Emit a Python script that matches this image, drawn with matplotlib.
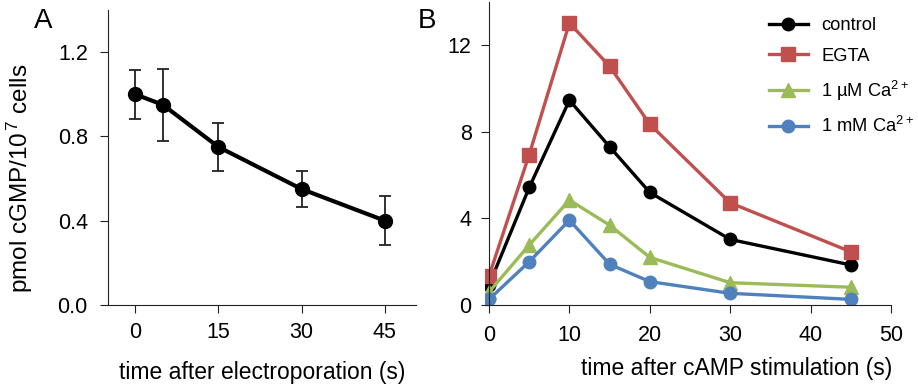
import matplotlib
matplotlib.use("Agg")
import matplotlib.pyplot as plt

plt.rcParams['font.family'] = ['Liberation Sans', 'DejaVu Sans']
plt.rcParams['mathtext.fontset'] = 'custom'
plt.rcParams['mathtext.rm'] = 'Liberation Sans'
plt.rcParams['mathtext.it'] = 'Liberation Sans:italic'

# panel A
t_a = [0, 5, 15, 30, 45]
cgmp_a = [1.0, 0.95, 0.75, 0.55, 0.40]
err_a = [0.115, 0.172, 0.115, 0.085, 0.115]

# panel B
t_b = [0, 5, 10, 15, 20, 30, 45]
control = [0.92, 5.43, 9.46, 7.31, 5.2, 3.03, 1.85]
egta = [1.34, 6.95, 13.03, 11.03, 8.35, 4.72, 2.46]
ca_um = [0.6, 2.77, 4.85, 3.69, 2.2, 1.03, 0.82]
ca_mm = [0.26, 2.0, 3.92, 1.88, 1.08, 0.54, 0.26]

series_b = [
    (control, 'control', 'black', 'o', 9),
    (egta, 'EGTA', '#C0504D', 's', 9.5),
    (ca_um, '1 µM Ca$^{2+}$', '#9BBB59', '^', 10),
    (ca_mm, '1 mM Ca$^{2+}$', '#4F81BD', 'o', 9),
]

fs = 15.5

fig = plt.figure(figsize=(9.18, 3.85), dpi=100)

# --- A ---
ax1 = fig.add_axes([108/918, 80/385, 308/918, 295/385])
ax1.errorbar(t_a, cgmp_a, yerr=err_a, color='black', lw=3, marker='o', ms=10,
             ecolor='#222222', elinewidth=1.3, capsize=4.5, capthick=1.3)
ax1.set_xlim(-4.9, 50.6)
ax1.set_ylim(0, 1.4)
ax1.set_xticks([0, 15, 30, 45])
ax1.set_yticks([0.0, 0.4, 0.8, 1.2])
ax1.set_yticklabels(['0.0', '0.4', '0.8', '1.2'])
ax1.set_xlabel('time after electroporation (s)', fontsize=16.5, labelpad=13)
ax1.set_ylabel('pmol cGMP/10$^{\\,7}$ cells', fontsize=17.5)
ax1.yaxis.set_label_coords(-73/308, 0.43)
ax1.tick_params(axis='y', pad=9)
ax1.tick_params(axis='x', pad=7)

fig.text(34/918, 1 - 8/385, 'A', fontsize=20, va='top')
fig.text(418/918, 1 - 8/385, 'B', fontsize=20, va='top')

# --- B ---
ax2 = fig.add_axes([485/918, 80/385, 406/918, 303/385])
for vals, lab, col, mk, ms in series_b:
    ax2.plot(t_b, vals, color=col, lw=2.4, marker=mk, ms=ms, label=lab)
ax2.set_xlim(-0.5, 50)
ax2.set_ylim(0, 14)
ax2.spines['left'].set_position(('data', 0))
ax2.set_xticks([0, 10, 20, 30, 40, 50])
ax2.set_yticks([0, 4, 8, 12])
ax2.set_xlabel('time after cAMP stimulation (s)', fontsize=16.5)
ax2.xaxis.set_label_coords(0.62, -0.17)
ax2.tick_params(axis='x', pad=9)
ax2.tick_params(axis='y', pad=7)
ax2.legend(loc='upper left', frameon=False, fontsize=13.2, handlelength=2.1,
           handletextpad=0.75, labelspacing=0.75, borderpad=0, borderaxespad=0,
           bbox_to_anchor=(769/918, 1 - 17/385), bbox_transform=fig.transFigure)

for ax in (ax1, ax2):
    ax.spines['top'].set_visible(False)
    ax.spines['right'].set_visible(False)
    ax.spines['left'].set_color('#222222')
    ax.spines['bottom'].set_color('#222222')
    ax.tick_params(labelsize=fs, direction='out', length=5.5, color='#222222')

fig.savefig('out.png', dpi=100)
